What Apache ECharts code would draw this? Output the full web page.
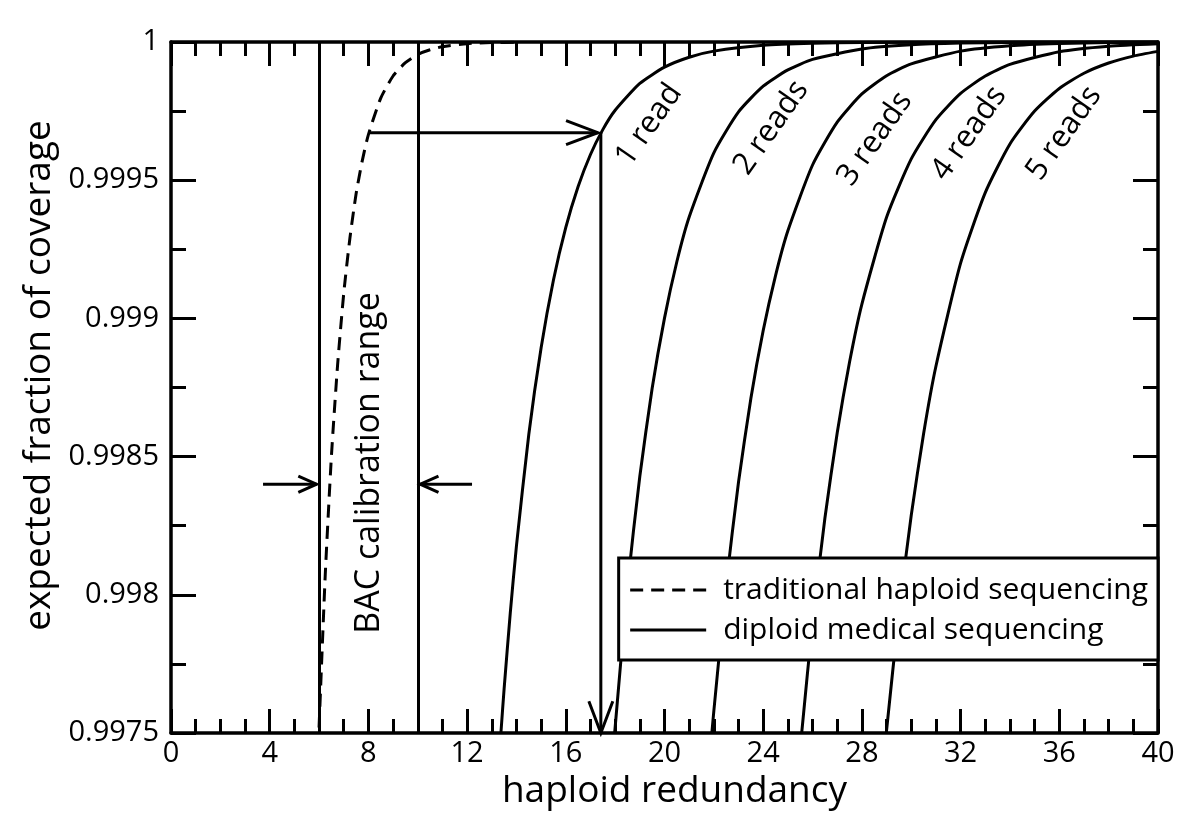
<!DOCTYPE html>
<html><head><meta charset="utf-8">
<script src="https://cdn.jsdelivr.net/npm/echarts@6/dist/echarts.min.js"></script>
<style>html,body{margin:0;padding:0;background:#fff}#c{width:1200px;height:822px}</style>
</head><body><div id="c"></div>
<script>
// ---- data ----
const xTickLabels = ['0','4','8','12','16','20','24','28','32','36','40'];
const yTickLabels = ['0.9975','0.998','0.9985','0.999','0.9995','1'];

const haploid = [[6.0,0.99752],[6.25,0.99807],[6.5,0.9985],[6.75,0.99883],[7.0,0.99909],[7.25,0.99929],[7.5,0.99945],[7.75,0.99957],[8.0,0.999665],[8.5,0.999797],[9.0,0.999877],[9.5,0.999925],[10,0.999955],[10.5,0.999972],[11,0.999983],[12,0.999994],[13,0.999998],[14,0.999999]];
const read1 = [[13.37,0.9975],[13.5,0.99766],[13.75,0.997935],[14,0.998177],[14.5,0.99858],[15,0.998894],[15.5,0.999139],[16,0.999329],[16.5,0.999477],[17,0.999593],[17.5,0.999683],[18,0.999753],[19,0.99985],[20,0.999909],[21,0.999945],[22,0.999967],[24,0.999988],[26,0.9999955],[28,0.9999983],[32,0.9999998],[40,1]];
const read2 = [[17.98,0.9975],[18.5,0.998031],[19,0.998429],[19.5,0.998747],[20,0.999001],[20.5,0.999205],[21,0.999367],[22,0.999599],[23,0.999747],[24,0.99984],[25,0.999899],[26,0.999937],[28,0.999975],[30,0.99999],[32,0.9999962],[34,0.9999985],[36,0.9999994],[40,1]];
const read3 = [[21.92,0.9975],[22,0.99758],[22.5,0.998036],[23,0.998408],[23.5,0.99871],[24,0.998956],[24.5,0.999155],[25,0.999317],[26,0.999555],[27,0.99971],[28,0.999812],[29,0.999878],[30,0.999921],[32,0.999967],[34,0.9999865],[36,0.9999945],[38,0.9999978],[40,0.9999991]];
const read4 = [[25.56,0.9975],[26,0.997901],[26.5,0.998277],[27,0.998586],[27.5,0.998842],[28,0.999052],[29,0.999366],[30,0.999577],[31,0.999719],[32,0.999814],[33,0.999877],[34,0.999919],[36,0.999965],[38,0.999985],[40,0.9999936]];
const read5 = [[29,0.99751],[29.5,0.997934],[30,0.998288],[30.5,0.998583],[31,0.998827],[32,0.9992],[33,0.999455],[34,0.999631],[35,0.99975],[36,0.999832],[37,0.999887],[38,0.999924],[39,0.999949],[40,0.999966]];

const bacRange = [6, 10];
const bacArrows = [[3.73,0.9984,5.9,0.9984],[12.2,0.9984,10.1,0.9984]];
const readArrows = [[8.02,0.999672,17.3,0.999672],[17.42,0.999672,17.42,0.9975]];
const readLabels = [[19.37,0.9997,'1 read'],[24.32,0.99969,'2 reads'],[28.53,0.99965,'3 reads'],[32.34,0.99967,'4 reads'],[36.19,0.99967,'5 reads']];
const bacLabel = [[8.04,0.998477,'BAC calibration range']];

const legendNames = ['traditional haploid sequencing','diploid medical sequencing'];
const readSeries = [read1, read2, read3, read4, read5];

// ---- chart ----
const FONT = '"Open Sans", "Noto Sans", sans-serif';
const chart = echarts.init(document.getElementById('c'), null, {renderer:'canvas'});

function baseAxis(opts){
  return Object.assign({
    type:'value',
    axisLine:{show:true, onZero:false, lineStyle:{color:'#000', width:3.5}},
    axisTick:{show:true, inside:true, lineStyle:{color:'#000', width:3}},
    minorTick:{show:false},
    splitLine:{show:false}, minorSplitLine:{show:false},
    axisLabel:{show:false}
  }, opts);
}
function tickAxis(kind, pos, interval, len, lineShow){
  const a = baseAxis(kind === 'x'
    ? {position:pos, min:0, max:40, interval:interval}
    : {position:pos, min:0.9975, max:1, interval:interval});
  a.axisTick.length = len;
  a.axisLine.show = lineShow;
  return a;
}

// major axes (with labels on bottom/left)
const xb = tickAxis('x','bottom',4,24,true);
xb.axisLabel = {show:true, color:'#000', fontFamily:FONT, fontSize:29, margin:6,
  formatter:(v)=>xTickLabels[Math.round(v/4)]};
xb.name = 'haploid redundancy'; xb.nameLocation = 'middle'; xb.nameGap = 36;
xb.nameTextStyle = {color:'#000', fontFamily:FONT, fontSize:37, padding:[0,0,0,20]};
const xt = tickAxis('x','top',4,24,true);
const xbm = tickAxis('x','bottom',1,14,false);
const xtm = tickAxis('x','top',1,14,false);

const yl = tickAxis('y','left',0.0005,25,true);
yl.axisLabel = {show:true, color:'#000', fontFamily:FONT, fontSize:29, margin:12,
  formatter:(v)=>yTickLabels[Math.round((v-0.9975)/0.0005)]};
yl.name = 'expected fraction of coverage'; yl.nameLocation = 'middle'; yl.nameGap = 112;
yl.nameTextStyle = {color:'#000', fontFamily:FONT, fontSize:37, padding:[0,0,0,24]};
const yr = tickAxis('y','right',0.0005,25,true);
const ylm = tickAxis('y','left',0.00025,15,false);
const yrm = tickAxis('y','right',0.00025,15,false);

function arrowRender(head, spread){
  return function(params, api){
    const a = api.coord([api.value(0), api.value(1)]);
    const b = api.coord([api.value(2), api.value(3)]);
    const ang = Math.atan2(b[1]-a[1], b[0]-a[0]);
    const h1 = [b[0]-head*Math.cos(ang-spread), b[1]-head*Math.sin(ang-spread)];
    const h2 = [b[0]-head*Math.cos(ang+spread), b[1]-head*Math.sin(ang+spread)];
    return {type:'group', children:[
      {type:'line', shape:{x1:a[0],y1:a[1],x2:b[0],y2:b[1]}, style:{stroke:'#000', lineWidth:3}},
      {type:'polyline', shape:{points:[h1,b,h2]}, style:{stroke:'#000', lineWidth:3, fill:null}}
    ]};
  };
}
function textRender(arr, rot, size){
  return function(params, api){
    const p = api.coord([api.value(0), api.value(1)]);
    return {type:'text', x:p[0], y:p[1], rotation:rot,
      style:{text:arr[params.dataIndex][2], fill:'#000', fontFamily:FONT, fontSize:size, align:'center', verticalAlign:'middle'}};
  };
}

const series = [];
series.push({
  name:legendNames[0], type:'line', data:haploid, symbol:'none', smooth:0.2,
  lineStyle:{color:'#000', width:3, type:[13,8]}, itemStyle:{color:'#000'}, z:3,
  markLine:{silent:true, symbol:'none', label:{show:false}, lineStyle:{color:'#000', width:3, type:'solid'},
    data:bacRange.map(v=>({xAxis:v}))}
});
readSeries.forEach(d=>series.push({
  name:legendNames[1], type:'line', data:d, symbol:'none', smooth:0.2,
  lineStyle:{color:'#000', width:3, type:'solid'}, itemStyle:{color:'#000'}, z:3
}));
series.push({type:'custom', name:'bacArrows', data:bacArrows, renderItem:arrowRender(20, 0.42), silent:true, z:4});
series.push({type:'custom', name:'readArrows', data:readArrows, renderItem:arrowRender(34, 0.36), silent:true, z:4});
series.push({type:'custom', name:'readLabels', data:readLabels.map(r=>[r[0],r[1]]), renderItem:textRender(readLabels, 55*Math.PI/180, 31), silent:true, z:4});
series.push({type:'custom', name:'bacLabel', data:bacLabel.map(r=>[r[0],r[1]]), renderItem:textRender(bacLabel, Math.PI/2, 34), silent:true, z:4});

chart.setOption({
  backgroundColor:'#fff',
  animation:false,
  grid:{left:171, right:42, top:42, bottom:89, containLabel:false},
  xAxis:[xb, xt, xbm, xtm],
  yAxis:[yl, yr, ylm, yrm],
  legend:{
    data:legendNames, orient:'vertical', right:42, top:558,
    backgroundColor:'#fff', borderColor:'#000', borderWidth:3, borderRadius:0,
    padding:[17,10,15,10], itemGap:10, itemWidth:76, itemHeight:22,
    itemStyle:{opacity:0},
    lineStyle:{width:3},
    textStyle:{color:'#000', fontFamily:FONT, fontSize:30, padding:[0,0,0,12]},
    selectedMode:false, z:10
  },
  series:series
});
</script></body></html>
